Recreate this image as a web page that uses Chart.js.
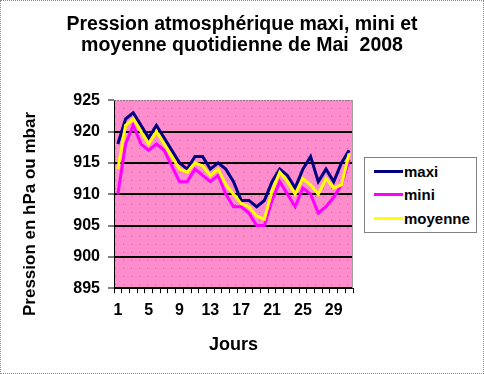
<!DOCTYPE html>
<html>
<head>
<meta charset="utf-8">
<script src="https://cdn.jsdelivr.net/npm/chart.js@4.4.0/dist/chart.umd.min.js"></script>
<style>
  html, body { margin: 0; padding: 0; background: #fff; }
  #wrap { position: relative; width: 482px; height: 372px; border: 1px dotted #8a8a8a; }
  #legend {
    position: absolute; left: 363px; top: 156px; width: 111px; height: 72px;
    border: 1px solid #808080; background: #fff;
    font: bold 15px "Liberation Sans", Arial, sans-serif; color: #000;
    padding-top: 2px; box-sizing: content-box;
  }
  .row { display: flex; align-items: center; height: 23px; }
  .row:last-child { height: 25px; }
  .swatch { width: 29px; height: 3px; margin-left: 9px; margin-right: 1px; }
</style>
</head>
<body>
<div id="wrap">
  <canvas id="chart" width="482" height="372"></canvas>
  <div id="legend"></div>
</div>
<script>
"use strict";

// ── Data ──────────────────────────────────────────────────
const days = [1, 2, 3, 4, 5, 6, 7, 8, 9, 10, 11, 12, 13, 14, 15, 16,
              17, 18, 19, 20, 21, 22, 23, 24, 25, 26, 27, 28, 29, 30, 31];
const shownDays = [1, 5, 9, 13, 17, 21, 25, 29];

const maxi    = [918, 922, 923, 921, 919, 921, 919, 917, 915, 914, 916, 916, 914, 915, 914, 912,
                 909, 909, 908, 909, 912, 914, 913, 911, 914, 916, 912, 914, 912, 915, 917];
const mini    = [910, 918, 921, 918, 917, 918, 917, 914.5, 912, 912, 914, 913, 912, 913, 910, 908,
                 908, 907, 905, 905, 909, 912, 910, 908, 911, 910, 907, 908, 909.5, 911.5, 915.5];
const moyenne = [914, 921, 922, 920, 918, 920, 918, 916, 914, 913.5, 915, 914.5, 913, 914, 911.5, 910,
                 908.5, 908, 906.5, 906, 910.5, 913.5, 912, 910, 912.5, 911.5, 910, 912.5, 911, 911.5, 916.5];

const yMin = 895, yMax = 925, yStep = 5;

const FONT = '"Liberation Sans", Arial, sans-serif';

// ── Fond rose pointillé de la zone de tracé ───────────────
function makePattern(ctx) {
  const tile = document.createElement("canvas");
  tile.width = 8; tile.height = 8;
  const t = tile.getContext("2d");
  t.fillStyle = "#ff8ccc";
  t.fillRect(0, 0, 8, 8);
  t.fillStyle = "#c7629f";
  t.fillRect(2, 3, 1, 1);
  return ctx.createPattern(tile, "repeat");
}

const plotArea = {
  id: "plotArea",
  beforeDraw(chart) {
    const { ctx, chartArea: a } = chart;
    ctx.save();
    ctx.fillStyle = makePattern(ctx);
    ctx.fillRect(a.left, a.top, a.right - a.left, a.bottom - a.top);
    ctx.restore();
  },
  afterDraw(chart) {
    const { ctx, chartArea: a } = chart;
    ctx.save();
    ctx.strokeStyle = "#7a7a7a";
    ctx.lineWidth = 1;
    ctx.setLineDash([2, 1]);
    ctx.beginPath();
    ctx.moveTo(a.left, a.top + 0.5);
    ctx.lineTo(a.right, a.top + 0.5);
    ctx.stroke();
    ctx.setLineDash([]);
    ctx.strokeStyle = "#a0a0a0";
    ctx.beginPath();
    ctx.moveTo(a.right - 0.5, a.top);
    ctx.lineTo(a.right - 0.5, a.bottom);
    ctx.stroke();
    ctx.restore();
  }
};

// titre vertical de l'axe Y, centré comme dans l'original
const yTitle = {
  id: "yTitle",
  afterDraw(chart) {
    const ctx = chart.ctx;
    ctx.save();
    ctx.translate(29, 213);
    ctx.rotate(-Math.PI / 2);
    ctx.font = "bold 17px " + FONT;
    ctx.fillStyle = "#000";
    ctx.textAlign = "center";
    ctx.textBaseline = "middle";
    ctx.fillText("Pression en hPa ou mbar", 0, 0);
    ctx.restore();
  }
};

// ── Chart ─────────────────────────────────────────────────
const ctx = document.getElementById("chart").getContext("2d");

const chart = new Chart(ctx, {
  type: "line",
  data: {
    labels: days,
    datasets: [
      { label: "maxi",    data: maxi,    borderColor: "#000080", order: 2 },
      { label: "mini",    data: mini,    borderColor: "#ff00ff", order: 1 },
      { label: "moyenne", data: moyenne, borderColor: "#ffff00", order: 0 },
    ].map(d => Object.assign(d, { borderWidth: 3, pointRadius: 0, tension: 0, fill: false })),
  },
  options: {
    responsive: false,
    animation: false,
    layout: { padding: { left: 0, right: 0, bottom: 17 } },
    plugins: {
      legend: { display: false },
      tooltip: { enabled: false },
      title: {
        display: true,
        text: ["Pression atmosphérique maxi, mini et", "moyenne quotidienne de Mai  2008"],
        color: "#000",
        font: { family: FONT, size: 19.5, weight: "bold", lineHeight: 1.03 },
        padding: { top: 14, bottom: 45 },
      },
    },
    scales: {
      x: {
        type: "category",
        offset: true,
        grid: { offset: true, drawOnChartArea: false, color: "#000", tickLength: 5 },
        border: { color: "#000", width: 1 },
        ticks: {
          autoSkip: false, maxRotation: 0, padding: 8, color: "#000",
          font: { family: FONT, size: 16, weight: "bold" },
          callback: function (v, i) { return shownDays.includes(days[i]) ? String(days[i]) : ""; },
        },
        title: {
          display: true, text: "Jours", color: "#000",
          font: { family: FONT, size: 18, weight: "bold" },
          padding: { top: 6, bottom: 0 },
        },
      },
      y: {
        min: yMin, max: yMax,
        afterFit: s => { s.width = 113; },
        grid: {
          color: c => (c.tick && c.tick.value === yMax) ? "rgba(0,0,0,0)" : "#000",
          lineWidth: 2, tickColor: "#000", tickWidth: 1, tickLength: 6,
        },
        border: { color: "#000", width: 1 },
        ticks: {
          stepSize: yStep, padding: 8, color: "#000",
          font: { family: FONT, size: 16, weight: "bold" },
        },
      },
      // axe vide à droite : réserve la place de la légende
      legendSpace: {
        type: "linear", position: "right",
        afterFit: s => { s.width = 130; },
        grid: { display: false },
        border: { display: false },
        ticks: { display: false },
      },
    },
  },
  plugins: [plotArea, yTitle],
});

// ── Légende (encadrée, à droite) ──────────────────────────
const legendEl = document.getElementById("legend");
chart.data.datasets.forEach(ds => {
  const row = document.createElement("div");
  row.className = "row";
  row.innerHTML = `<span class="swatch" style="background:${ds.borderColor}"></span><span>${ds.label}</span>`;
  legendEl.appendChild(row);
});
</script>
</body>
</html>
